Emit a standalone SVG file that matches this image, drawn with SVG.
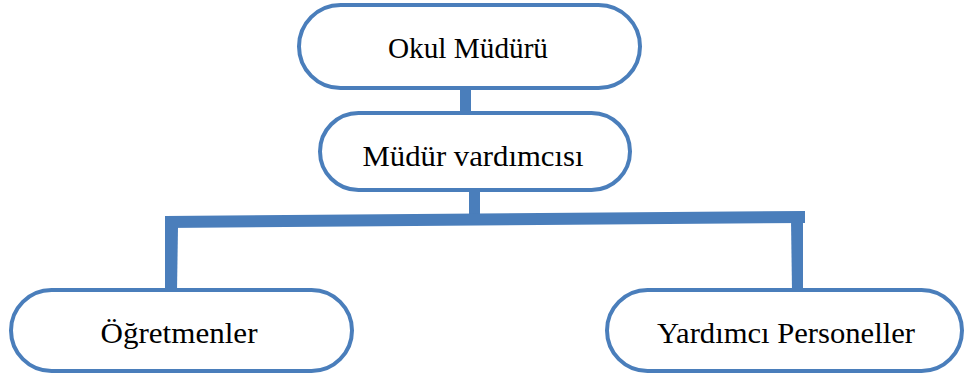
<svg xmlns="http://www.w3.org/2000/svg" width="966" height="378" viewBox="0 0 966 378">
<style>
.node{fill:#fff;stroke:#4a7ebb;stroke-width:4}
.conn{fill:#4a7ebb;stroke:none}
text{font-family:"Liberation Serif","DejaVu Serif",serif;font-size:30px;fill:#000;text-anchor:middle}
</style>
<rect width="966" height="378" fill="#fff"/>
<g id="connectors">
<rect class="conn" x="460" y="86" width="11" height="29"/>
<rect class="conn" x="469" y="188" width="11" height="28"/>
<polygon class="conn" points="165,216 805,211 805,223 165,228"/>
<polygon class="conn" points="165,226 178,226 177,291 165,291"/>
<polygon class="conn" points="791,220 803,220 803,291 792,291"/>
</g>
<g id="okul-muduru">
<rect class="node" x="299" y="5" width="341" height="83" rx="41.5"/>
<text x="468" y="58" textLength="160" lengthAdjust="spacingAndGlyphs">Okul Müdürü</text>
</g>
<g id="mudur-vardimcisi">
<rect class="node" x="320" y="113" width="310" height="77" rx="38.5"/>
<text x="473" y="166" textLength="221" lengthAdjust="spacingAndGlyphs">Müdür vardımcısı</text>
</g>
<g id="ogretmenler">
<rect class="node" x="11" y="290" width="341" height="81" rx="40.5"/>
<text x="179" y="343" textLength="157" lengthAdjust="spacingAndGlyphs">Öğretmenler</text>
</g>
<g id="yardimci-personeller">
<rect class="node" x="607" y="290" width="355" height="81" rx="40.5"/>
<text x="786" y="343" textLength="258" lengthAdjust="spacingAndGlyphs">Yardımcı Personeller</text>
</g>
</svg>
